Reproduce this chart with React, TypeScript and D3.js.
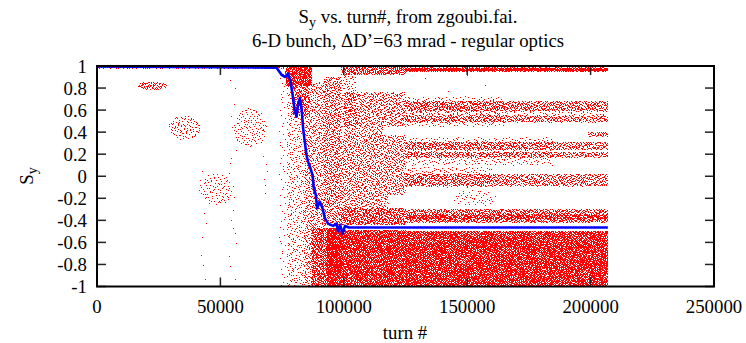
import React, { useMemo } from "react";
import * as d3 from "d3";

const xTicks = [0, 50000, 100000, 150000, 200000, 250000];
const yTicks = [1, 0.8, 0.6, 0.4, 0.2, 0, -0.2, -0.4, -0.6, -0.8, -1];

// Red point clouds:
// [turnFrom, turnTo, SyLow, SyHigh, number of dots, shape (0 = box, 1 = oval)]
const redBands: [number, number, number, number, number, number][] = [
  // before depolarisation
  [0, 76000, 0.978, 1.0, 260, 0],
  [16500, 28500, 0.785, 0.855, 80, 1],
  [29000, 42000, 0.33, 0.55, 100, 1],
  [41500, 55000, -0.26, 0.02, 90, 1],
  [42000, 44500, -1.0, 0.15, 10, 0],
  [53500, 57000, -1.0, 0.9, 20, 0],
  [55500, 69000, 0.26, 0.62, 130, 1],
  [67500, 69000, -0.2, 0.2, 6, 0],
  [74000, 76500, -1.0, 0.95, 60, 0],
  // transition
  [76500, 87000, 0.82, 0.99, 500, 0],
  [79000, 86000, 0.55, 0.82, 200, 0],
  [77000, 84000, -1.0, 0.85, 450, 0],
  [84000, 92000, -1.0, 0.85, 1000, 0],
  [92000, 99000, -0.45, 0.9, 900, 0],
  [87000, 93000, -1.0, -0.47, 450, 0],
  [93000, 99000, -1.0, -0.47, 1100, 0],
  // after, diffuse part
  [99000, 125000, 0.92, 1.0, 320, 0],
  [99000, 105000, 0.45, 0.92, 120, 0],
  [100000, 125000, 0.45, 0.76, 650, 0],
  [100000, 116000, 0.36, 0.45, 90, 0],
  [99000, 125000, -0.17, 0.37, 1150, 0],
  [99000, 118000, -0.29, -0.17, 170, 0],
  [99000, 125000, -0.44, -0.29, 650, 0],
  [99000, 125000, -1.0, -0.49, 3600, 0],
  // after, settled bands
  [125000, 207000, 0.95, 0.985, 800, 0],
  [125000, 207000, 0.955, 0.975, 450, 0],
  [125000, 207000, 0.59, 0.68, 900, 0],
  [125000, 207000, 0.49, 0.55, 550, 0],
  [125000, 207000, 0.55, 0.59, 80, 0],
  [125000, 165000, 0.45, 0.72, 300, 0],
  [199000, 207000, 0.36, 0.4, 40, 0],
  [125000, 207000, 0.24, 0.31, 650, 0],
  [125000, 207000, 0.17, 0.22, 450, 0],
  [125000, 185000, 0.1, 0.35, 450, 0],
  [125000, 207000, -0.09, 0.02, 950, 0],
  [125000, 160000, -0.1, 0.08, 200, 0],
  [144000, 162000, -0.27, -0.13, 50, 1],
  [125000, 207000, -0.42, -0.3, 1400, 0],
  [125000, 207000, -0.39, -0.35, 450, 0],
  [125000, 207000, -1.0, -0.5, 11500, 0],
  [130000, 160000, 0.75, 0.93, 4, 0],
];

// Blue average trace
const blueTurns = [0, 72750, 74780, 76120, 77450, 78420, 79230, 80160, 80850, 81500, 82190, 82870, 83520, 84210, 84900, 85550, 86520, 87330, 87860, 88660, 89190, 90280, 91380, 92310, 93640, 95670, 97000, 97700, 98500, 99500, 100500, 102000, 207000];
const blueSy = [0.995, 0.985, 0.92, 0.9, 0.93, 0.86, 0.74, 0.59, 0.54, 0.65, 0.71, 0.62, 0.435, 0.31, 0.19, 0.13, 0.07, 0.01, -0.11, -0.17, -0.29, -0.23, -0.29, -0.38, -0.43, -0.45, -0.43, -0.5, -0.44, -0.52, -0.45, -0.465, -0.465];

const W = 746;
const H = 343;
const L = 97;
const R = 714;
const T = 66;
const B = 286.5;
const FONT = "Liberation Serif, Times New Roman, serif";

function halton(i: number, b: number) {
  let f = 1;
  let r = 0;
  while (i > 0) {
    f /= b;
    r += f * (i % b);
    i = Math.floor(i / b);
  }
  return r;
}

export default function App() {
  const x = d3.scaleLinear().domain([0, 250000]).range([L, R]);
  const y = d3.scaleLinear().domain([-1, 1]).range([B, T]);

  const redPath = useMemo(() => {
    const parts: string[] = [];
    let n = 1;
    for (const [t0, t1, s0, s1, count, oval] of redBands) {
      let placed = 0;
      while (placed < count) {
        const u = halton(n, 2);
        const v = halton(n, 3);
        n++;
        if (oval) {
          const dx = u - 0.5;
          const dy = v - 0.5;
          if (dx * dx + dy * dy > 0.25) continue;
        }
        placed++;
        const px = Math.floor(x(t0 + u * (t1 - t0)));
        const py = Math.floor(y(s0 + v * (s1 - s0)));
        parts.push(`M${px},${py}h1v1h-1z`);
      }
    }
    return parts.join("");
  }, []);

  const blueLine = d3
    .line<number>()
    .x((_, i) => x(blueTurns[i]))
    .y((d) => y(d))(blueSy);

  const fmt = (v: number) => (v === 0 ? "0" : String(v));

  return (
    <svg width={W} height={H} style={{ position: "absolute", left: 0, top: 0, background: "#fff" }}>
      <rect x={0} y={0} width={W} height={H} fill="#fff" />
      <path d={redPath} fill="#ff0000" shapeRendering="crispEdges" />
      <path d={blueLine || ""} fill="none" stroke="#0000ff" strokeWidth={2.6} strokeLinejoin="round" />
      {yTicks.map((t) => (
        <g key={"y" + t}>
          <line x1={L} x2={L + 9} y1={y(t)} y2={y(t)} stroke="#222" strokeWidth={1.5} />
          <line x1={R} x2={R - 9} y1={y(t)} y2={y(t)} stroke="#222" strokeWidth={1.5} />
          <text x={L - 10} y={y(t) + 6.5} textAnchor="end" fontFamily={FONT} fontSize={18.8} fill="#000">
            {fmt(t)}
          </text>
        </g>
      ))}
      {xTicks.map((t) => (
        <g key={"x" + t}>
          <line x1={x(t)} x2={x(t)} y1={B} y2={B - 9} stroke="#222" strokeWidth={1.5} />
          <line x1={x(t)} x2={x(t)} y1={T} y2={T + 9} stroke="#222" strokeWidth={1.5} />
          <text x={x(t)} y={313} textAnchor="middle" fontFamily={FONT} fontSize={18.8} fill="#000">
            {t}
          </text>
        </g>
      ))}
      <rect x={L} y={T} width={R - L} height={B - T} fill="none" stroke="#000" strokeWidth={2} />
      <text x={408} y={23} textAnchor="middle" fontFamily={FONT} fontSize={18.8} fill="#000">
        S<tspan dy={4} fontSize={14}>y</tspan>
        <tspan dy={-4}> vs. turn#, from zgoubi.fai.</tspan>
      </text>
      <text x={408} y={47} textAnchor="middle" fontFamily={FONT} fontSize={18.8} fill="#000">
        6-D bunch, ΔD’=63 mrad - regular optics
      </text>
      <text x={405} y={339} textAnchor="middle" fontFamily={FONT} fontSize={18.8} fill="#000">
        turn #
      </text>
      <text transform="translate(33,176) rotate(-90)" textAnchor="middle" fontFamily={FONT} fontSize={18.8} fill="#000">
        S<tspan dy={4} fontSize={14}>y</tspan>
      </text>
    </svg>
  );
}
